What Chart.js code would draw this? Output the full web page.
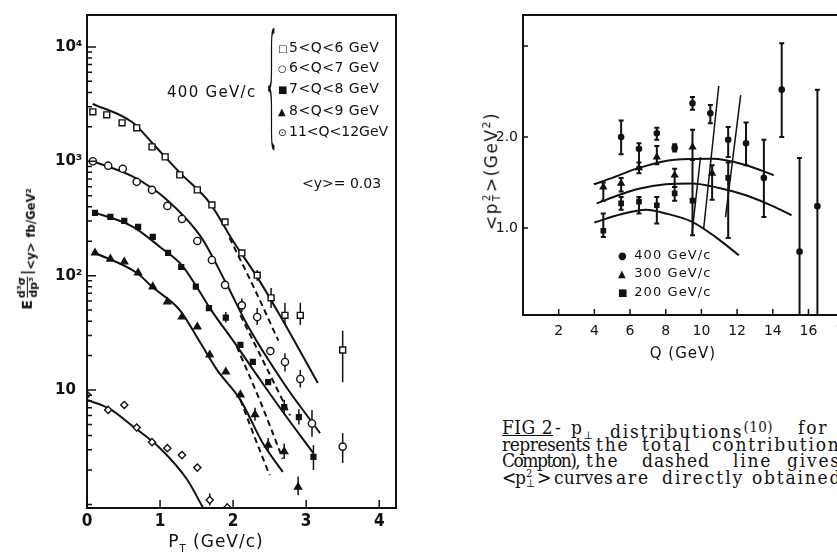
<!DOCTYPE html>
<html>
<head>
<meta charset="utf-8">
<script src="https://cdn.jsdelivr.net/npm/chart.js@4.4.0/dist/chart.umd.min.js"></script>
<style>
  body { margin: 0; width: 837px; height: 554px; overflow: hidden; background: #fff; position: relative; font-family: "DejaVu Sans", sans-serif; color: #111; }
  #left { position: absolute; left: 0; top: 0; width: 420px; height: 554px; }
  #right { position: absolute; left: 440px; top: 0; width: 440px; height: 360px; }
  .t { position: absolute; white-space: nowrap; line-height: 18px; }
  .cap { position: absolute; white-space: nowrap; font-family: "DejaVu Serif Condensed", "DejaVu Serif", serif; font-size: 19px; letter-spacing: 1.8px; line-height: 20px; }
  .mk { display: inline-block; width: 11px; font-size: 10px; }
  .frac { display: inline-flex; flex-direction: column; vertical-align: middle; font-size: 11px; line-height: 11px; text-align: center; margin: 0 2px; }
  .frac span:first-child { border-bottom: 1.5px solid #111; }
  .ss { display: inline-flex; flex-direction: column; vertical-align: middle; font-size: 10px; line-height: 10px; margin: 0 1px; }
</style>
</head>
<body>
<div id="left"><canvas id="ptChart"></canvas></div>
<div id="right"><canvas id="qChart"></canvas></div>

<!-- left panel text -->
<div class="t" style="left:28px;top:249px;transform:translate(-50%,-50%) rotate(-90deg);font-size:14px;font-weight:bold">E<span class="frac"><span>d³σ</span><span>dp³</span></span>|<sub>&lt;y&gt;</sub>&nbsp;<sub>fb/GeV²</sub></div>
<div class="t" style="left:216px;top:545px;transform:translate(-50%,-50%);font-size:17px;letter-spacing:1px">P<sub style="font-size:10px">T</sub> (GeV/c)</div>
<div class="t" style="left:167px;top:83px;font-size:15px;letter-spacing:1.3px">400 GeV/c</div>
<div class="t" style="left:264px;top:17px;font-size:44px;line-height:44px;transform:scale(0.55,3.0);transform-origin:left top;font-weight:200">{</div>
<div class="t" style="left:278px;top:38px;font-size:14px;letter-spacing:0.5px"><span class="mk">□</span>5&lt;Q&lt;6 GeV</div>
<div class="t" style="left:278px;top:58px;font-size:14px;letter-spacing:0.5px"><span class="mk">○</span>6&lt;Q&lt;7 GeV</div>
<div class="t" style="left:278px;top:79px;font-size:14px;letter-spacing:0.5px"><span class="mk">■</span>7&lt;Q&lt;8 GeV</div>
<div class="t" style="left:278px;top:101px;font-size:14px;letter-spacing:0.5px"><span class="mk">▲</span>8&lt;Q&lt;9 GeV</div>
<div class="t" style="left:278px;top:122px;font-size:14px;letter-spacing:0px"><span class="mk">⊙</span>11&lt;Q&lt;12GeV</div>
<div class="t" style="left:302px;top:174px;font-size:14px">&lt;y&gt;= 0.03</div>

<!-- right panel text -->
<div class="t" style="left:490px;top:171px;transform:translate(-50%,-50%) rotate(-90deg);font-size:17px;letter-spacing:1.5px">&lt;p<span class="ss"><span>2</span><span>T</span></span>&gt;(GeV<sup style="font-size:11px">2</sup>)</div>
<div class="t" style="left:683px;top:353px;transform:translate(-50%,-50%);font-size:15px;letter-spacing:1px">Q (GeV)</div>
<div class="t" style="left:618px;top:246px;font-size:13px;letter-spacing:1.1px"><span class="mk">●</span>&nbsp;400 GeV/c</div>
<div class="t" style="left:618px;top:264px;font-size:13px;letter-spacing:1.1px"><span class="mk">▲</span>&nbsp;300 GeV/c</div>
<div class="t" style="left:618px;top:283px;font-size:13px;letter-spacing:1.1px"><span class="mk">■</span>&nbsp;200 GeV/c</div>

<!-- caption -->
<div class="cap" style="left:502px;top:417px;letter-spacing:0.5px"><u>FIG 2</u></div>
<div class="cap" style="left:555px;top:417px">-</div>
<div class="cap" style="left:571px;top:417px">p<sub style="font-size:11px">⊥</sub></div>
<div class="cap" style="left:610px;top:417px">distributions<sup style="font-size:15px;vertical-align:6px;letter-spacing:0.5px">(10)</sup></div>
<div class="cap" style="left:798px;top:417px">for</div>
<div class="cap" style="left:502px;top:434px;letter-spacing:-0.5px">represents</div>
<div class="cap" style="left:596px;top:434px">the</div>
<div class="cap" style="left:642px;top:434px;letter-spacing:2px">total</div>
<div class="cap" style="left:712px;top:434px">contribution</div>
<div class="cap" style="left:502px;top:450px;letter-spacing:-1.5px">Compton),</div>
<div class="cap" style="left:586px;top:450px">the</div>
<div class="cap" style="left:642px;top:450px;letter-spacing:1px">dashed</div>
<div class="cap" style="left:733px;top:450px">line</div>
<div class="cap" style="left:787px;top:450px">gives</div>
<div class="cap" style="left:502px;top:467px;letter-spacing:0">&lt;</div>
<div class="cap" style="left:515px;top:467px;letter-spacing:0">p<span class="ss" style="font-size:11px;margin:0"><span>2</span><span>⊥</span></span></div>
<div class="cap" style="left:537px;top:467px;letter-spacing:0">&gt;</div>
<div class="cap" style="left:554px;top:467px;letter-spacing:0.3px">curves</div>
<div class="cap" style="left:616px;top:467px">are</div>
<div class="cap" style="left:662px;top:467px;letter-spacing:2px">directly</div>
<div class="cap" style="left:752px;top:467px">obtained</div>

<script>
// ---------- left panel: E d3sigma/dp3 vs pT (log y) ----------
const s1X = [0.08, 0.27, 0.48, 0.68, 0.89, 1.07, 1.27, 1.51, 1.71, 1.89, 2.12, 2.33, 2.52, 2.71, 2.92, 3.5];
const s1Y = [2705, 2546, 2168, 1960, 1336, 1092, 760, 562, 415, 295, 158, 101, 64, 45, 45, 22.4];
const s1Err = [null, null, null, null, null, null, null, null, null, null, null, [90, 112], [52, 78], [37, 58], [37, 58], [11.7, 33]];

const s2X = [0.08, 0.29, 0.49, 0.68, 0.89, 1.10, 1.30, 1.51, 1.71, 1.89, 2.12, 2.33, 2.51, 2.71, 2.92, 3.08, 3.5];
const s2Y = [1000, 915, 860, 661, 562, 407, 313, 201, 137, 83, 55, 43.5, 21.9, 17.6, 12.5, 5.1, 3.2];
const s2Err = [null, null, null, null, null, null, null, null, null, null, [48, 63], [37, 52], null, [14.5, 21], [10.5, 15], [3.9, 6.7], [2.3, 4.2]];

const s3X = [0.11, 0.32, 0.51, 0.70, 0.90, 1.11, 1.29, 1.49, 1.67, 1.90, 2.10, 2.27, 2.48, 2.70, 2.90, 3.10];
const s3Y = [354, 327, 301, 267, 218, 158, 119, 80, 52, 43, 24.8, 17.6, 11.7, 7.1, 5.8, 2.6];
const s3Err = [null, null, null, null, null, null, null, null, null, [39, 48], null, null, null, [6.2, 8.2], [5, 6.8], [2.0, 3.3]];

const s4X = [0.11, 0.32, 0.51, 0.70, 0.90, 1.10, 1.30, 1.51, 1.68, 1.90, 2.10, 2.30, 2.48, 2.70, 2.89];
const s4Y = [158, 140, 132, 106, 80, 59, 43.6, 35.7, 20.3, 14.4, 9.1, 6.1, 3.3, 2.9, 1.42];
const s4Err = [null, null, null, null, null, null, null, null, null, null, null, [5.4, 7], [2.9, 3.8], [2.5, 3.4], [1.2, 1.75]];

const s5X = [0.0, 0.29, 0.51, 0.68, 0.89, 1.10, 1.30, 1.51, 1.68, 1.92];
const s5Y = [9.1, 6.7, 7.4, 4.7, 3.5, 3.1, 2.7, 2.1, 1.09, 0.94];
const s5Err = [null, null, null, null, null, null, null, null, [0.98, 1.25], [0.93, 1.02]];

// fitted curves (solid) and dashed variants
const c1X = [0.08, 0.63, 0.89, 1.27, 1.68, 1.99, 2.33, 2.64, 3.16];
const c1Y = [3180, 2170, 1450, 795, 433, 205, 97, 45, 11.5];
const d1X = [1.95, 2.3, 2.62];
const d1Y = [215, 75, 27];

const c2X = [0.08, 0.63, 1.10, 1.56, 1.90, 2.21, 2.70, 3.19];
const c2Y = [1000, 733, 457, 218, 87, 35.5, 11.3, 4.2];
const d2X = [2.1, 2.45, 2.78];
const d2Y = [45, 16, 6];

const c3X = [0.08, 0.63, 1.0, 1.3, 1.5, 1.7, 2.0, 2.37, 2.7, 3.1];
const c3Y = [361, 267, 178, 123, 80, 50, 27, 12.3, 6.2, 2.8];
const d3X = [2.05, 2.37, 2.68];
const d3Y = [24, 8, 2.5];

const c4X = [0.08, 0.68, 0.90, 1.27, 1.55, 1.78, 2.10, 2.41, 2.68];
const c4Y = [161, 106, 79, 50, 26, 15, 8.2, 3.4, 1.92];
const d4X = [2.1, 2.3, 2.5];
const d4Y = [8.2, 3.8, 1.8];

const c5X = [0.0, 0.3, 0.63, 1.0, 1.37, 1.59];
const c5Y = [8.2, 6.9, 4.8, 3.1, 1.65, 0.93];

const ptTicks = [0, 1, 2, 3, 4];
const yDecades = [10, 100, 1000, 10000];
const yDecadeLabels = ["10", "10²", "10³", "10⁴"];

// ---------- right panel: <pT^2> vs Q ----------
const p400X = [5.5, 6.5, 7.5, 8.5, 9.5, 10.5, 11.5, 12.5, 13.5, 14.5, 15.5, 16.5];
const p400Y = [2.00, 1.87, 2.04, 1.88, 2.37, 2.26, 1.97, 1.93, 1.55, 2.52, 0.74, 1.24];
const p400Lo = [1.81, 1.67, 1.97, 1.84, 2.30, 2.15, 1.78, 1.69, 1.12, 2.00, 0.0, 0.0];
const p400Hi = [2.18, 1.93, 2.10, 1.92, 2.44, 2.35, 2.11, 2.16, 1.97, 3.03, 1.77, 2.52];

const p300X = [4.5, 5.5, 6.5, 7.5, 8.5, 9.5, 10.6];
const p300Y = [1.45, 1.49, 1.66, 1.78, 1.58, 1.89, 1.60];
const p300Lo = [1.30, 1.40, 1.60, 1.70, 1.45, 1.75, 1.31];
const p300Hi = [1.50, 1.55, 1.72, 1.90, 1.65, 2.08, 1.69];

const p200X = [4.5, 5.5, 6.5, 7.5, 8.5, 9.5, 11.5];
const p200Y = [0.97, 1.27, 1.29, 1.25, 1.38, 1.30, 1.55];
const p200Lo = [0.90, 1.20, 1.16, 1.05, 1.30, 0.92, 0.89];
const p200Hi = [1.16, 1.34, 1.34, 1.34, 1.45, 1.75, 1.72];

const t400X = [3.97, 5, 6.5, 8.5, 10.6, 12.5, 14.05];
const t400Y = [1.48, 1.55, 1.66, 1.75, 1.76, 1.69, 1.58];
const t300X = [4.13, 5.5, 6.5, 8, 9.45, 11, 12.5, 14, 15.05];
const t300Y = [1.27, 1.37, 1.43, 1.48, 1.49, 1.44, 1.36, 1.24, 1.14];
const t200X = [4.0, 5.5, 6.9, 8.0, 9.45, 10.8, 12.1];
const t200Y = [1.06, 1.15, 1.20, 1.16, 1.07, 0.90, 0.70];

const steep1X = [9.47, 9.95], steep1Y = [0.94, 1.78];
const steep2X = [10.13, 10.97], steep2Y = [1.0, 2.56];
const steep3X = [11.35, 12.2], steep3Y = [1.12, 2.46];

const qTicks = [2, 4, 6, 8, 10, 12, 14, 16, 18];
const pTicks = [1, 2, 3];
const pTickLabels = ["1.0", "2.0", ""];

// ---------- helpers ----------
const ink = "#111";
const xy = (xs, ys) => xs.map((x, i) => ({ x, y: ys[i] }));
const pairs = (lo, hi) => lo.map((l, i) => [l, hi[i]]);

function points(xs, ys, err, style, r, filled) {
  return {
    data: xy(xs, ys), showLine: false, err,
    pointStyle: style, pointRadius: r,
    pointBackgroundColor: filled ? ink : "#fff",
    pointBorderColor: ink, pointBorderWidth: 1.4,
  };
}
function curve(xs, ys, dashed) {
  return {
    data: xy(xs, ys), showLine: true, pointRadius: 0,
    borderColor: ink, borderWidth: 2, tension: 0.4,
    cubicInterpolationMode: "monotone",
    borderDash: dashed ? [6, 4] : [],
  };
}

const errBars = {
  id: "errBars",
  beforeDatasetsDraw(chart, args, opts) {
    const { ctx, chartArea: a, scales: { x, y } } = chart;
    ctx.save();
    ctx.beginPath();
    ctx.rect(a.left, a.top, a.right - a.left, a.bottom - a.top);
    ctx.clip();
    ctx.strokeStyle = ink;
    ctx.lineWidth = opts.width || 1.5;
    chart.data.datasets.forEach((ds) => {
      if (!ds.err) return;
      ds.data.forEach((p, i) => {
        const e = ds.err[i];
        if (!e) return;
        const px = x.getPixelForValue(p.x);
        const y1 = y.getPixelForValue(e[0]);
        const y2 = y.getPixelForValue(e[1]);
        ctx.beginPath();
        ctx.moveTo(px, y1);
        ctx.lineTo(px, y2);
        if (opts.cap) {
          ctx.moveTo(px - opts.cap, y1); ctx.lineTo(px + opts.cap, y1);
          ctx.moveTo(px - opts.cap, y2); ctx.lineTo(px + opts.cap, y2);
        }
        ctx.stroke();
      });
    });
    ctx.restore();
  },
};

const frame = {
  id: "frame",
  afterDraw(chart, args, opts) {
    const { ctx, chartArea: a, scales: { x, y } } = chart;
    ctx.save();
    ctx.strokeStyle = ink;
    ctx.lineWidth = 2;
    ctx.strokeRect(a.left, a.top, a.right - a.left, a.bottom - a.top);
    ctx.lineWidth = 1.5;
    ctx.beginPath();
    y.ticks.forEach((t) => {
      const py = y.getPixelForValue(t.value);
      const len = opts.isMajorY(t.value) ? 9 : 5;
      ctx.moveTo(a.left, py);
      ctx.lineTo(a.left + len, py);
    });
    x.ticks.forEach((t) => {
      const px = x.getPixelForValue(t.value);
      ctx.moveTo(px, a.bottom);
      ctx.lineTo(px, a.bottom - opts.xLen);
    });
    ctx.stroke();
    ctx.restore();
  },
};

// log-scale tick values 1..9 per decade
const logTicks = [];
[1, 10, 100, 1000, 10000].forEach((d) => {
  for (let k = 1; k <= 9; k++) if (d * k <= 19000) logTicks.push(d * k);
});

new Chart(document.getElementById("ptChart"), {
  type: "scatter",
  data: {
    datasets: [
      points(s1X, s1Y, s1Err, "rect", 4.2, false),
      points(s2X, s2Y, s2Err, "circle", 3.6, false),
      points(s3X, s3Y, s3Err, "rect", 3.4, true),
      points(s4X, s4Y, s4Err, "triangle", 4, true),
      points(s5X, s5Y, s5Err, "rectRot", 3.6, false),
      curve(c1X, c1Y), curve(d1X, d1Y, true),
      curve(c2X, c2Y), curve(d2X, d2Y, true),
      curve(c3X, c3Y), curve(d3X, d3Y, true),
      curve(c4X, c4Y), curve(d4X, d4Y, true),
      curve(c5X, c5Y),
    ],
  },
  options: {
    responsive: true, maintainAspectRatio: false, animation: false,
    layout: { padding: { left: 55, top: 15, right: 24, bottom: 0 } },
    plugins: {
      legend: { display: false }, tooltip: { enabled: false },
      errBars: { width: 1.5 },
      frame: { xLen: 8, isMajorY: (v) => yDecades.includes(v) },
    },
    scales: {
      x: {
        type: "linear", min: 0, max: 4.23,
        afterBuildTicks: (s) => { s.ticks = ptTicks.map((v) => ({ value: v })); },
        afterFit: (s) => { s.height = 46; },
        grid: { display: false, drawTicks: false }, border: { display: false },
        ticks: { padding: 3, color: ink, font: { family: "DejaVu Sans Condensed", size: 17, weight: "bold" } },
      },
      y: {
        type: "logarithmic", min: 0.93, max: 19000,
        afterBuildTicks: (s) => { s.ticks = logTicks.map((v) => ({ value: v })); },
        afterFit: (s) => { s.width = 32; },
        grid: { display: false, drawTicks: false }, border: { display: false },
        ticks: {
          autoSkip: false, crossAlign: "far", color: ink,
          font: { family: "DejaVu Sans", size: 15, weight: "bold" },
          callback: (v) => { const i = yDecades.indexOf(v); return i < 0 ? "" : yDecadeLabels[i]; },
        },
      },
    },
  },
  plugins: [errBars, frame],
});

new Chart(document.getElementById("qChart"), {
  type: "scatter",
  data: {
    datasets: [
      points(p400X, p400Y, pairs(p400Lo, p400Hi), "circle", 2.6, true),
      points(p300X, p300Y, pairs(p300Lo, p300Hi), "triangle", 3.4, true),
      points(p200X, p200Y, pairs(p200Lo, p200Hi), "rect", 3, true),
      curve(t400X, t400Y), curve(t300X, t300Y), curve(t200X, t200Y),
      Object.assign(curve(steep1X, steep1Y), { borderWidth: 1.5, tension: 0 }),
      Object.assign(curve(steep2X, steep2Y), { borderWidth: 1.5, tension: 0 }),
      Object.assign(curve(steep3X, steep3Y), { borderWidth: 1.5, tension: 0 }),
    ],
  },
  options: {
    responsive: true, maintainAspectRatio: false, animation: false,
    layout: { padding: { left: 0, top: 15, right: 18, bottom: 0 } },
    plugins: {
      legend: { display: false }, tooltip: { enabled: false },
      errBars: { width: 2, cap: 2.5 },
      frame: { xLen: 6, isMajorY: () => false },
    },
    scales: {
      x: {
        type: "linear", min: 0, max: 19,
        afterBuildTicks: (s) => { s.ticks = qTicks.map((v) => ({ value: v })); },
        afterFit: (s) => { s.height = 45; },
        grid: { display: false, drawTicks: false }, border: { display: false },
        ticks: { padding: 8, color: ink, font: { family: "DejaVu Sans", size: 14 } },
      },
      y: {
        type: "linear", min: 0.044, max: 3.34,
        afterBuildTicks: (s) => { s.ticks = pTicks.map((v) => ({ value: v })); },
        afterFit: (s) => { s.width = 83; },
        grid: { display: false, drawTicks: false }, border: { display: false },
        ticks: {
          padding: 5, color: ink, font: { family: "DejaVu Sans", size: 14 },
          callback: (v) => pTickLabels[pTicks.indexOf(v)] ?? "",
        },
      },
    },
  },
  plugins: [errBars, frame],
});
</script>
</body>
</html>
